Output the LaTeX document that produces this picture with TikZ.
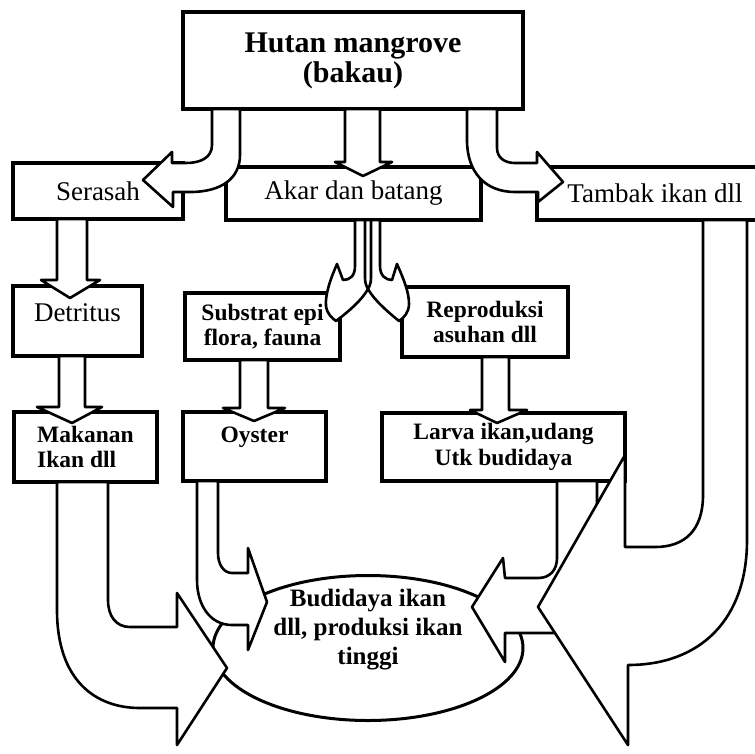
\documentclass[tikz,border=0pt]{standalone}
\usepackage{fontspec}
\setmainfont{Liberation Serif}
\usetikzlibrary{shapes.geometric}
\tikzset{
  kotak/.style={draw,line width=3.4pt,inner sep=0pt,outer sep=0pt,align=center},
  judul/.style={kotak,font=\fontsize{30}{30}\selectfont\bfseries},
  biasa/.style={kotak,font=\fontsize{27}{30}\selectfont},
  tebal/.style={kotak,font=\fontsize{23.5}{25.5}\selectfont\bfseries},
  panah/.style={draw,fill=white,line width=2.6pt,line join=round},
  oval/.style={ellipse,draw,line width=3pt,inner sep=0pt,outer sep=0pt,minimum width=310pt,minimum height=145pt},
  tekselips/.style={align=center,inner sep=0pt,font=\fontsize{25}{29}\selectfont\bfseries}
}
\begin{document}
\begin{tikzpicture}[x=1pt,y=-1pt]
        \useasboundingbox (0,0) rectangle (755,753);
        \clip (0,0) rectangle (755,753);
        \fill[white] (0,0) rectangle (755,753);
        % kotak-kotak
        \node[judul,minimum width=340pt,minimum height=97pt] (hutan) at (353,60.5) {Hutan mangrove\\(bakau)};
        \node[biasa,minimum width=170pt,minimum height=56pt] (serasah) at (98,191) {Serasah};
        \node[biasa,minimum width=255pt,minimum height=53pt] (akar) at (353.5,193.5) {Akar dan batang};
        \node[biasa,minimum width=236pt,minimum height=53pt] (tambak) at (655,193.5) {Tambak ikan dll};
        \node[biasa,minimum width=129pt,minimum height=70pt,text depth=16pt] (detritus) at (77.5,321) {Detritus};
        \node[tebal,minimum width=155pt,minimum height=67pt] (substrat) at (262.5,326.5) {Substrat epi\\flora, fauna};
        \node[tebal,minimum width=166pt,minimum height=70pt] (reproduksi) at (485,322) {Reproduksi\\asuhan dll};
        \node[tebal,minimum width=143pt,minimum height=70pt,align=left] (makanan) at (85.5,447) {Makanan\\Ikan dll};
        \node[tebal,minimum width=143pt,minimum height=69pt,text depth=23pt] (oyster) at (254.5,446.5) {Oyster};
        \node[tebal,minimum width=243pt,minimum height=68pt] (larva) at (503.5,447) {Larva ikan,udang\\Utk budidaya};
        \node[oval] (budidaya) at (368,648) {};
        \node[tekselips] (budidayateks) at ([yshift=18pt]budidaya.center) {Budidaya ikan\\dll, produksi ikan\\tinggi};
        % panah lurus
        \foreach \src/\xa/\xb/\yb/\ba/\bb/\tx/\ty in {hutan/345/380/162/335/392/363/176,
                serasah/57/87/280/41/100/70/298, detritus/59/85/407/37/102/72/423,
                substrat/240/268/408/223/285/254/421, reproduksi/482/509/410/470/527/497/423}
                \draw[panah] (\xa,0 |- \src.south) -- (\xa,\yb) -- (\ba,\yb) -- (\tx,\ty) -- (\bb,\yb) -- (\xb,\yb) -- (\xb,0 |- \src.south) -- cycle;
        % panah lengkung dari hutan
        \draw[panah] (212,0 |- hutan.south) -- (212,145) .. controls (212,158) and (200,163) .. (186,163) -- (172,163) -- (172,152)
                -- (143,180) -- (173,207) -- (173,192) -- (190,192) .. controls (222,192) and (240,178) .. (240,155) -- (240,0 |- hutan.south) -- cycle;
        \draw[panah] (467,0 |- hutan.south) -- (467,140) .. controls (467,172) and (485,192) .. (515,192) -- (538,192) -- (538,202)
                -- (563,182) -- (537,152) -- (537,163) -- (515,163) .. controls (505,163) and (497,158) .. (497,148) -- (497,0 |- hutan.south) -- cycle;
        % panah bercabang dari akar
        \draw[panah] (355,0 |- akar.south) -- (355,266) .. controls (355,276) and (350,280) .. (343,280) -- (337,264)
                .. controls (330,280) and (325,295) .. (326,306) .. controls (327,314) and (332,318) .. (336,321)
                .. controls (348,312) and (362,300) .. (368,289) .. controls (374,300) and (388,312) .. (399,321)
                .. controls (404,318) and (409,312) .. (409,304) .. controls (409,292) and (404,280) .. (397,264)
                -- (392,280) .. controls (386,280) and (380,276) .. (380,266) -- (380,0 |- akar.south) -- cycle;
        \draw[line width=2.6pt] (365,0 |- akar.south) -- (365,278) .. controls (365,284) and (367,287) .. (368,289)
                .. controls (369,287) and (371,284) .. (371,278) -- (371,0 |- akar.south);
        % panah ke budidaya
        \draw[panah] (197,0 |- oyster.south) -- (197,580) .. controls (197,605) and (210,625) .. (232,625) -- (248,625) -- (248,650)
                -- (267,602) -- (248,548) -- (248,573) -- (232,573) .. controls (224,573) and (218,565) .. (218,553) -- (218,0 |- oyster.south) -- cycle;
        \draw[panah] (57,0 |- makanan.south) -- (57,610) .. controls (57,680) and (95,708) .. (140,708) -- (177,708) -- (177,745)
                -- (227,668) -- (177,593) -- (177,627) -- (130,627) .. controls (116,627) and (108,616) .. (108,600) -- (108,0 |- makanan.south) -- cycle;
        \draw[panah] (557,0 |- larva.south) -- (557,558) .. controls (557,570) and (550,578) .. (538,578) -- (505,578) -- (503,558)
                -- (472,607) -- (505,662) -- (505,633) -- (560,633) .. controls (585,633) and (597,615) .. (597,590) -- (597,0 |- larva.south) -- cycle;
        \draw[panah] (703,0 |- tambak.south) -- (703,495) .. controls (703,530) and (685,547) .. (655,547) -- (625,547) -- (625,455)
                -- (538,607) -- (628,745) -- (628,665) .. controls (700,665) and (747,620) .. (747,540) -- (747,0 |- tambak.south) -- cycle;
\end{tikzpicture}
\end{document}
